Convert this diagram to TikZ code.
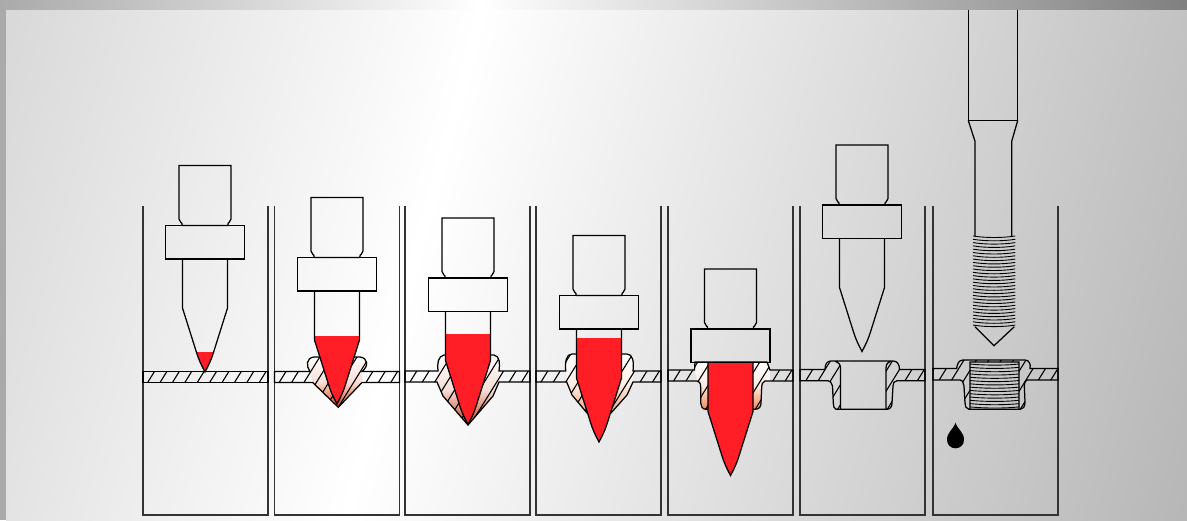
\documentclass[tikz,border=0pt]{standalone}
\usepackage{tikz}
\usetikzlibrary{calc}

\definecolor{toolred}{RGB}{255,30,38}
\definecolor{frameband}{RGB}{170,170,170}
\definecolor{heatred}{RGB}{222,70,30}
\definecolor{heatdeep}{RGB}{200,65,30}
\definecolor{heatpale}{RGB}{240,165,125}
\definecolor{heatmid}{RGB}{238,140,90}
\tikzset{
  panelline/.style={line width=1.1pt, black!80},
  outline/.style={line width=1.25pt, black},
  hatchline/.style={line width=1.1pt, black},
  threadline/.style={line width=0.9pt, black},
  wallfill/.style={top color=white, bottom color=#1, middle color=#1!18!white}
}

\begin{document}
\begin{tikzpicture}[x=1pt,y=-1pt]

\useasboundingbox (0,0) rectangle (1187,520);

% Фон
\fill[frameband] (0,0) rectangle (6,520);
\shade[left color=frameband, right color=white] (0,0) rectangle (480,10);
\shade[left color=white, right color=black!50] (480,0) rectangle (1187,10);
\begin{scope}
\clip (6,10) rectangle (1187,520);
\shade[transform canvas={rotate around={-15:(415,260)}}, left color=black!33, right color=black!35, middle color=white]
  (-585,-740) rectangle (1415,1260);
\end{scope}

% Пуансон: центр, сдвиг, верх красной части
\def\tool#1#2#3{
\begin{scope}[shift={(#1,#2)}]
\begin{scope}
\clip (-22.5,259) -- (-22.5,308) -- (-8,354) .. controls (-5,363) and (-2,368) .. (0,372)
  .. controls (2,368) and (5,363) .. (8,354) -- (22.5,308) -- (22.5,259) -- cycle;
\fill[toolred] (-30,#3) rectangle (30,375);
\end{scope}
\draw[outline] (-26,165.5) -- (26,165.5) -- (26,219) .. controls (26,223) and (22.7,221) .. (22.7,225.5)
  -- (-22.7,225.5) .. controls (-22.7,221) and (-26,223) .. (-26,219) -- cycle;
\draw[outline] (-39.5,225.5) rectangle (39.5,259);
\draw[outline] (-22.5,259) -- (-22.5,308) -- (-8,354) .. controls (-5,363) and (-2,368) .. (0,372)
  .. controls (2,368) and (5,363) .. (8,354) -- (22.5,308) -- (22.5,259);
\end{scope}
}

% Лист: левый край, контур
\def\plate#1#2{
\begin{scope}[even odd rule]
\clip #2;
\foreach \k in {-6,...,14}
  \draw[hatchline] ({#1+4+12.4*\k-35},440) -- ({#1+4+12.4*\k+27},340);
\end{scope}
\draw[outline] #2;
}

% Панели
\foreach \l in {143,274.5,405,536,668,800,933}
  \draw[panelline] (\l,206) -- (\l,515) -- (\l+125,515) -- (\l+125,206);

% Панель 1
\plate{143}{(143,371.5) -- (268,371.5) -- (268,382.5) -- (143,382.5) -- cycle}
\tool{205}{0}{352}

% Панель 2
\shade[wallfill=heatred] (310,371.5) .. controls (306,366) and (306,358) .. (314,357)
  -- (360,357) .. controls (368,358) and (369,366) .. (362,371.5) -- (362,382.5) -- (338.3,407.3) -- (312.7,382.5) -- cycle;
\plate{274.5}{(274.5,371.5) -- (310,371.5) .. controls (306,366) and (306,358) .. (314,357)
  -- (360,357) .. controls (368,358) and (369,366) .. (362,371.5) -- (399.5,371.5) -- (399.5,382.5)
  -- (362,382.5) -- (338.3,407.3) -- (312.7,382.5) -- (274.5,382.5) -- cycle}
\tool{337}{32}{304}

% Панель 3
\shade[wallfill=heatdeep] (438,371) .. controls (437,364) and (438,356) .. (444,355)
  -- (494,355) .. controls (500,356) and (500,364) .. (499,371) -- (499,382) -- (493,396) -- (468,425) -- (443,396) -- (437,382) -- cycle;
\plate{405}{(405,371) -- (438,371) .. controls (437,364) and (438,356) .. (444,355)
  -- (494,355) .. controls (500,356) and (500,364) .. (499,371) -- (530,371) -- (530,382)
  -- (499,382) -- (493,396) -- (468,425) -- (443,396) -- (437,382) -- (405,382) -- cycle}
\tool{468}{52.5}{281.5}

% Панель 4
\shade[wallfill=heatpale] (565.7,371) .. controls (565,362) and (566,354) .. (572,354)
  -- (627,354) .. controls (633,354) and (634,362) .. (633,371) -- (633,382) -- (627,395) -- (611,413) -- (587,413) -- (572,395) -- (566.7,382) -- cycle;
\plate{536}{(536,371) -- (565.7,371) .. controls (565,362) and (566,354) .. (572,354)
  -- (627,354) .. controls (633,354) and (634,362) .. (633,371) -- (661,371) -- (661,382)
  -- (633,382) -- (627,395) -- (611,413) -- (587,413) -- (572,395) -- (566.7,382) -- (536,382) -- cycle}
\tool{599}{70}{268}

% Панель 5
\shade[wallfill=heatmid] (694.5,370) -- (695,362) -- (767,362) -- (770,370) -- (770,381)
  -- (765,381) .. controls (762,382) and (762,384) .. (761.7,387) -- (761,403) .. controls (761,407) and (759,409.3) .. (755,409.3)
  -- (706,409.3) .. controls (702,409.3) and (701,406) .. (700.7,403) -- (700.7,387) .. controls (700.7,383) and (699,381) .. (697,381) -- cycle;
\plate{668}{(668,370) -- (694.5,370) -- (695,362) -- (767,362) -- (770,370) -- (793,370) -- (793,381)
  -- (765,381) .. controls (762,382) and (762,384) .. (761.7,387) -- (761,403) .. controls (761,407) and (759,409.3) .. (755,409.3)
  -- (706,409.3) .. controls (702,409.3) and (701,406) .. (700.7,403) -- (700.7,387) .. controls (700.7,383) and (699,381) .. (697,381) -- (668,381) -- cycle}
\tool{730.5}{103.5}{258.5}

% Панель 6
\plate{800}{(800,369.5) -- (825,369.5) .. controls (825,364) and (827,361) .. (831,361)
  -- (893,361) .. controls (897,361) and (899.5,364) .. (899.5,369.5) -- (925,369.5) -- (925,380.7)
  -- (897,380.7) .. controls (894,381) and (893,383) .. (893,386) -- (892,403) .. controls (892,407) and (890,409.3) .. (886.5,409.3)
  -- (836,409.3) .. controls (834,409) and (833.3,406) .. (833.3,403) -- (832.5,386) .. controls (832,383) and (830,380.7) .. (828,380.7) -- (800,380.7) -- cycle
  (835,361) .. controls (838,362) and (840.5,364) .. (840.5,368) -- (840.5,409.3) -- (886,409.3) -- (886,368) .. controls (886,364) and (888,362) .. (891,361) -- cycle}
\tool{862}{-20.5}{400}

% Панель 7
\plate{933}{(933,368.5) -- (956.7,368.5) .. controls (957,364) and (959,360) .. (963,360)
  -- (1025,360) .. controls (1029,360) and (1031,364) .. (1030,368.5) -- (1058,368.5) -- (1058,380)
  -- (1027,380) .. controls (1025,381) and (1024.3,383) .. (1024.3,386) -- (1025,402) .. controls (1025,407) and (1023,409.3) .. (1020,409.3)
  -- (969,409.3) .. controls (966,409) and (965,406) .. (965,403) -- (964,386) .. controls (964,383) and (962,380) .. (960,380) -- (933,380) -- cycle
  (970,362) -- (970,409.3) -- (1019,409.3) -- (1019,362) -- cycle}
\foreach \i in {0,...,13}
  \draw[threadline] (970,{364+3.3*\i}) .. controls (985,{365.5+3.3*\i}) and (1005,{365.5+3.3*\i}) .. (1019,{364+3.3*\i});

% Метчик
\draw[outline] (968.3,10) -- (968.3,120.5) -- (1017.7,120.5) -- (1017.7,10);
\draw[outline] (968.3,120.5) -- (975,141.3) -- (975,236);
\draw[outline] (1017.7,120.5) -- (1011.7,141.3) -- (1011.7,236);
\foreach \i in {0,...,27}
  \draw[threadline, line cap=round] (973.3,{236+3.3*\i}) .. controls (985,{238+3.3*\i}) and (1003,{238+3.3*\i}) .. (1015,{236+3.3*\i});
\draw[outline] (975,326.7) -- (994,345.7) -- (1014.3,326.7);

% Капля
\fill[black] (955.5,422.7) .. controls (953,430) and (947,432) .. (947,440) .. controls (947,445) and (951,448.3) .. (955.5,448.3)
  .. controls (960,448.3) and (964,445) .. (964,440) .. controls (964,432) and (958,430) .. (955.5,422.7) -- cycle;

\end{tikzpicture}
\end{document}
